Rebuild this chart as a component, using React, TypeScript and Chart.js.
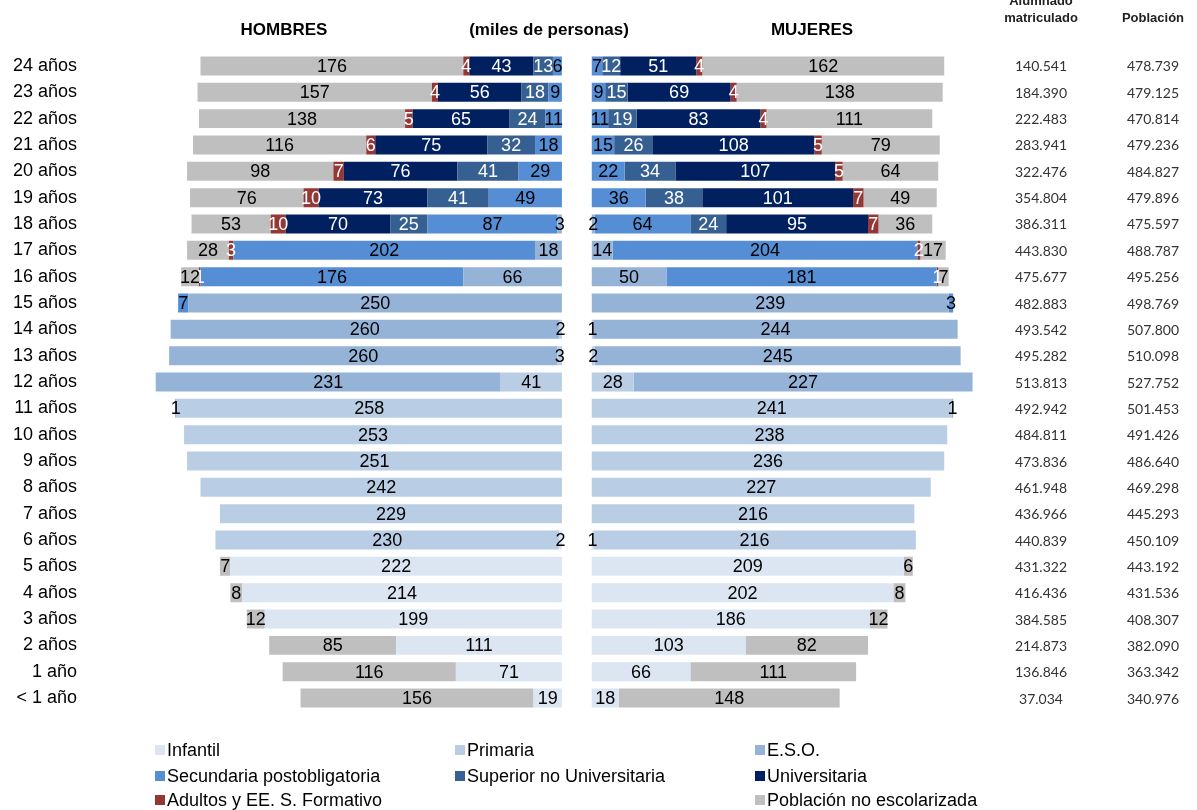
import React, { useEffect, useRef } from 'react';
import { Chart, registerables } from 'chart.js';

Chart.register(...registerables);

// ---------- DATA (thousands of people), rows top to bottom ----------
const ages = [
  '24 años', '23 años', '22 años', '21 años', '20 años', '19 años', '18 años', '17 años',
  '16 años', '15 años', '14 años', '13 años', '12 años', '11 años', '10 años', '9 años',
  '8 años', '7 años', '6 años', '5 años', '4 años', '3 años', '2 años', '1 año', '< 1 año',
];

const levels = [
  'Infantil', 'Primaria', 'E.S.O.', 'Secundaria postobligatoria',
  'Superior no Universitaria', 'Universitaria', 'Adultos y EE. S. Formativo', 'Población no escolarizada',
];

// Hombres
const infantilM = [0, 0, 0, 0, 0, 0, 0, 0, 0, 0, 0, 0, 0, 0, 0, 0, 0, 0, 2, 222, 214, 199, 111, 71, 19];
const primariaM = [0, 0, 0, 0, 0, 0, 0, 0, 0, 0, 2, 3, 41, 258, 253, 251, 242, 229, 230, 0, 0, 0, 0, 0, 0];
const esoM = [0, 0, 0, 0, 0, 0, 3, 18, 66, 250, 260, 260, 231, 1, 0, 0, 0, 0, 0, 0, 0, 0, 0, 0, 0];
const secundariaM = [6, 9, 11, 18, 29, 49, 87, 202, 176, 7, 0, 0, 0, 0, 0, 0, 0, 0, 0, 0, 0, 0, 0, 0, 0];
const superiorM = [13, 18, 24, 32, 41, 41, 25, 0, 0, 0, 0, 0, 0, 0, 0, 0, 0, 0, 0, 0, 0, 0, 0, 0, 0];
const universitariaM = [43, 56, 65, 75, 76, 73, 70, 0, 0, 0, 0, 0, 0, 0, 0, 0, 0, 0, 0, 0, 0, 0, 0, 0, 0];
const adultosM = [4, 4, 5, 6, 7, 10, 10, 3, 1, 0, 0, 0, 0, 0, 0, 0, 0, 0, 0, 0, 0, 0, 0, 0, 0];
const noEscolarizadaM = [176, 157, 138, 116, 98, 76, 53, 28, 12, 0, 0, 0, 0, 0, 0, 0, 0, 0, 0, 7, 8, 12, 85, 116, 156];

// Mujeres
const infantilW = [0, 0, 0, 0, 0, 0, 0, 0, 0, 0, 0, 0, 0, 0, 0, 0, 0, 0, 1, 209, 202, 186, 103, 66, 18];
const primariaW = [0, 0, 0, 0, 0, 0, 0, 0, 0, 0, 1, 2, 28, 241, 238, 236, 227, 216, 216, 0, 0, 0, 0, 0, 0];
const esoW = [0, 0, 0, 0, 0, 0, 2, 14, 50, 239, 244, 245, 227, 1, 0, 0, 0, 0, 0, 0, 0, 0, 0, 0, 0];
const secundariaW = [7, 9, 11, 15, 22, 36, 64, 204, 181, 3, 0, 0, 0, 0, 0, 0, 0, 0, 0, 0, 0, 0, 0, 0, 0];
const superiorW = [12, 15, 19, 26, 34, 38, 24, 0, 0, 0, 0, 0, 0, 0, 0, 0, 0, 0, 0, 0, 0, 0, 0, 0, 0];
const universitariaW = [51, 69, 83, 108, 107, 101, 95, 0, 0, 0, 0, 0, 0, 0, 0, 0, 0, 0, 0, 0, 0, 0, 0, 0, 0];
const adultosW = [4, 4, 4, 5, 5, 7, 7, 2, 1, 0, 0, 0, 0, 0, 0, 0, 0, 0, 0, 0, 0, 0, 0, 0, 0];
const noEscolarizadaW = [162, 138, 111, 79, 64, 49, 36, 17, 7, 0, 0, 0, 0, 0, 0, 0, 0, 0, 0, 6, 8, 12, 82, 111, 148];

// Table columns (people)
const alumnadoMatriculado = [
  140541, 184390, 222483, 283941, 322476, 354804, 386311, 443830, 475677, 482883, 493542, 495282,
  513813, 492942, 484811, 473836, 461948, 436966, 440839, 431322, 416436, 384585, 214873, 136846, 37034,
];
const poblacion = [
  478739, 479125, 470814, 479236, 484827, 479896, 475597, 488787, 495256, 498769, 507800, 510098,
  527752, 501453, 491426, 486640, 469298, 445293, 450109, 443192, 431536, 408307, 382090, 363342, 340976,
];

const menSeries = [infantilM, primariaM, esoM, secundariaM, superiorM, universitariaM, adultosM, noEscolarizadaM];
const womenSeries = [infantilW, primariaW, esoW, secundariaW, superiorW, universitariaW, adultosW, noEscolarizadaW];

// ---------- STYLE ----------
const colors = ['#dce6f2', '#b9cde5', '#95b3d7', '#558ed5', '#376092', '#002060', '#953735', '#bfbfbf'];
const labelColors = ['#000', '#000', '#000', '#000', '#fff', '#fff', '#fff', '#000'];
const GAP = 10; // half gap between both pyramids (in thousands)
const FONT = '"Liberation Sans", Arial, sans-serif';

function fmt(n: number): string {
  const s = String(n);
  return s.length > 3 ? s.slice(0, s.length - 3) + '.' + s.slice(s.length - 3) : s;
}

const labelsPlugin = {
  id: 'segLabels',
  afterDatasetsDraw(chart: any) {
    const ctx = chart.ctx;
    ctx.save();
    ctx.font = `18px ${FONT}`;
    ctx.textAlign = 'center';
    ctx.textBaseline = 'middle';
    chart.data.datasets.forEach((ds: any, di: number) => {
      if (ds.spacer) return;
      const meta = chart.getDatasetMeta(di);
      meta.data.forEach((el: any, i: number) => {
        const v = Math.abs(ds.data[i]);
        if (!v) return;
        const p = el.getProps(['x', 'y', 'base'], true);
        ctx.fillStyle = ds.labelColor;
        ctx.fillText(String(Math.round(v)), (p.x + p.base) / 2, p.y + 1);
      });
    });
    ctx.restore();
  },
};

const decorPlugin = {
  id: 'decor',
  afterDraw(chart: any) {
    const ctx = chart.ctx;
    const yS = chart.scales.y;
    ctx.save();
    ctx.textAlign = 'center';
    ctx.textBaseline = 'middle';
    // headers
    ctx.fillStyle = '#000';
    ctx.font = `bold 17px ${FONT}`;
    ctx.fillText('HOMBRES', 284, 30);
    ctx.fillText('(miles de personas)', 549, 30);
    ctx.fillText('MUJERES', 812, 30);
    ctx.font = `bold 13px ${FONT}`;
    ctx.fillStyle = '#222';
    ctx.fillText('Alumnado', 1041, 1);
    ctx.fillText('matriculado', 1041, 18);
    ctx.fillText('Población', 1153, 18);
    // table values
    ctx.font = `14px Lato, ${FONT}`;
    ctx.fillStyle = '#333';
    ages.forEach((_, i) => {
      const y = yS.getPixelForValue(i) + 1;
      ctx.fillText(fmt(alumnadoMatriculado[i]), 1041, y);
      ctx.fillText(fmt(poblacion[i]), 1153, y);
    });
    // legend
    const cols = [155, 455, 755];
    const rows = [750, 776, 800];
    const slots = [[0, 0], [1, 0], [2, 0], [0, 1], [1, 1], [2, 1], [0, 2], [2, 2]];
    ctx.textAlign = 'left';
    ctx.font = `18px ${FONT}`;
    levels.forEach((name, k) => {
      const x = cols[slots[k][0]];
      const y = rows[slots[k][1]];
      ctx.fillStyle = colors[k];
      ctx.fillRect(x, y - 5, 10, 10);
      ctx.fillStyle = '#000';
      ctx.fillText(name, x + 12, y + 1);
    });
    ctx.restore();
  },
};

export default function App() {
  const ref = useRef<HTMLCanvasElement | null>(null);

  useEffect(() => {
    if (!ref.current) return;
    const datasets: any[] = [
      { label: '', data: ages.map(() => -GAP), backgroundColor: 'rgba(0,0,0,0)', spacer: true, stack: 's' },
      { label: '', data: ages.map(() => GAP), backgroundColor: 'rgba(0,0,0,0)', spacer: true, stack: 's' },
    ];
    levels.forEach((name, k) => {
      datasets.push({
        label: name + ' (H)',
        data: menSeries[k].map((v) => -v),
        backgroundColor: colors[k],
        labelColor: labelColors[k],
        stack: 's',
      });
      datasets.push({
        label: name + ' (M)',
        data: womenSeries[k].map((v) => v),
        backgroundColor: colors[k],
        labelColor: labelColors[k],
        stack: 's',
      });
    });

    const chart = new Chart(ref.current, {
      type: 'bar',
      data: { labels: ages, datasets },
      options: {
        indexAxis: 'y',
        animation: false,
        responsive: false,
        events: [],
        layout: { padding: { top: 52.8, bottom: 98.8, left: 0, right: 208 } },
        datasets: { bar: { barPercentage: 0.72, categoryPercentage: 1, borderWidth: 0 } },
        plugins: { legend: { display: false }, tooltip: { enabled: false }, title: { display: false } },
        scales: {
          x: { display: false, stacked: true, min: -326, max: 276 },
          y: {
            stacked: true,
            grid: { display: false, drawTicks: false },
            border: { display: false },
            ticks: { color: '#000', font: { size: 18, family: FONT }, padding: 13 },
            afterFit: (scale: any) => {
              scale.width = 90;
            },
          },
        },
      } as any,
      plugins: [labelsPlugin, decorPlugin],
    });
    return () => chart.destroy();
  }, []);

  return (
    <div style={{ position: 'absolute', left: 0, top: 0, width: 1197, height: 810, background: '#fff' }}>
      <canvas ref={ref} width={1197} height={810} style={{ display: 'block', width: 1197, height: 810 }} />
    </div>
  );
}
